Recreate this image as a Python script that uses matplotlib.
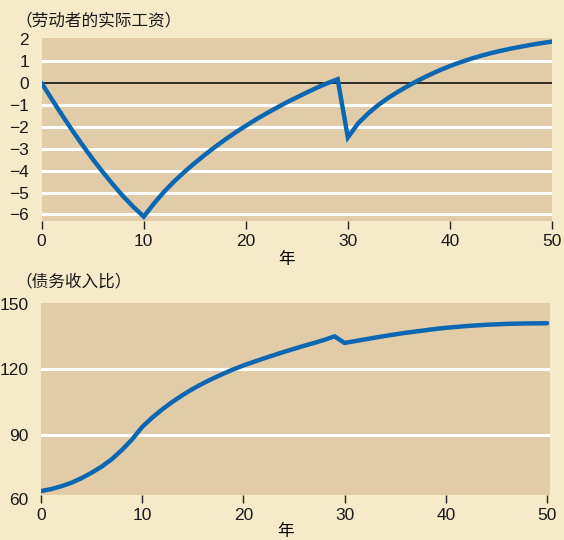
import numpy as np
import matplotlib
matplotlib.use("Agg")
import matplotlib.pyplot as plt

# ---- data ----
years = list(range(0, 51))

real_wage = [
    0.0, -0.74, -1.46, -2.16, -2.83, -3.47, -4.07, -4.64, -5.18, -5.66,  # 0-9
    -6.1, -5.5, -4.96, -4.48, -4.05, -3.65, -3.27, -2.91, -2.57, -2.25,  # 10-19
    -1.95, -1.66, -1.39, -1.13, -0.88, -0.65, -0.42, -0.2, 0.0, 0.18,    # 20-29
    -2.48, -1.84, -1.38, -0.99, -0.66, -0.37, -0.1, 0.15, 0.38, 0.59,    # 30-39
    0.78, 0.95, 1.105, 1.245, 1.37, 1.48, 1.58, 1.67, 1.755, 1.83,       # 40-49
    1.9,                                                                  # 50
]

debt_income = [
    64.4, 65.3, 66.6, 68.2, 70.3, 72.8, 75.6, 79.0, 83.2, 88.0,          # 0-9
    93.7, 98.0, 101.8, 105.2, 108.3, 111.1, 113.6, 115.9, 118.0, 120.0, # 10-19
    121.8, 123.4, 125.0, 126.5, 128.0, 129.4, 130.8, 132.1, 133.5, 135.1,  # 20-29
    132.1, 132.9, 133.7, 134.5, 135.3, 136.0, 136.7, 137.3, 137.9, 138.5,  # 30-39
    139.0, 139.4, 139.8, 140.1, 140.4, 140.6, 140.8, 140.9, 141.0, 141.05,  # 40-49
    141.1,                                                                  # 50
]

x_ticks = [0, 10, 20, 30, 40, 50]
wage_ticks = [2, 1, 0, -1, -2, -3, -4, -5, -6]
debt_ticks = [90, 120, 150]

title_top = "（劳动者的实际工资）"
title_bottom = "（债务收入比）"
x_name = "年"

# ---- style ----
fig_bg = "#F5EBC8"
panel_bg = "#E2CCA8"
line_col = "#0B67B2"
cjk = ["Noto Sans CJK SC", "DejaVu Sans"]
num_font = "Liberation Sans"

plt.rcParams["font.family"] = cjk
plt.rcParams["axes.unicode_minus"] = True

fig = plt.figure(figsize=(5.64, 5.40), dpi=100)
fig.patch.set_facecolor(fig_bg)

ax1 = fig.add_axes([0.0739, 0.5907, 0.9048, 0.3384])
ax2 = fig.add_axes([0.0727, 0.0833, 0.9025, 0.3550])


def style_axes(ax):
    ax.set_facecolor(panel_bg)
    for s in ax.spines.values():
        s.set_visible(False)
    ax.tick_params(axis="y", length=0, pad=9, labelsize=12.5)
    ax.tick_params(axis="x", length=6, width=1, color="#222222",
                   pad=3, labelsize=12.5, direction="out")
    for lab in ax.get_xticklabels() + ax.get_yticklabels():
        lab.set_fontfamily(num_font)
        lab.set_color("#1a1a1a")


# top: real wage of workers
ax1.set_xlim(0, 50)
ax1.set_ylim(-6.3, 2.05)
for v in wage_ticks:
    if v == 0:
        ax1.axhline(v, color="black", lw=1.1, zorder=2)
    elif v != 2:
        ax1.axhline(v, color="white", lw=2.2, zorder=1)
ax1.plot(years, real_wage, color=line_col, lw=3.2, zorder=3,
         solid_joinstyle="miter", solid_capstyle="round")
ax1.set_xticks(x_ticks)
ax1.set_yticks(wage_ticks)
ax1.set_yticklabels([str(v).replace("-", "\u2212") for v in wage_ticks])
style_axes(ax1)
ax1.set_xlabel(x_name, fontsize=12, labelpad=2, x=0.48)

# bottom: debt to income ratio
ax2.set_xlim(0, 50.3)
ax2.set_ylim(62.6, 150.2)
for v in debt_ticks[:-1]:
    ax2.axhline(v, color="white", lw=2.2, zorder=1)
ax2.plot(years, debt_income, color=line_col, lw=3.2, zorder=3,
         solid_joinstyle="miter", solid_capstyle="round")
ax2.set_xticks(x_ticks)
ax2.set_yticks(debt_ticks)
style_axes(ax2)
# "60" sits just below the panel edge in the original
ax2.annotate("60", xy=(0, 60), xycoords=("axes fraction", "data"),
             xytext=(-9, 0), textcoords="offset points",
             ha="right", va="center", fontsize=12.5, fontfamily=num_font,
             color="#1a1a1a", annotation_clip=False)
ax2.set_xlabel(x_name, fontsize=12, labelpad=0, x=0.48)

fig.text(15 / 564, 1 - 21 / 540, title_top, fontsize=12,
         ha="left", va="center", color="#1a1a1a")
fig.text(15 / 564, 1 - 282 / 540, title_bottom, fontsize=12,
         ha="left", va="center", color="#1a1a1a")

fig.savefig("out.png", dpi=100, facecolor=fig_bg)
